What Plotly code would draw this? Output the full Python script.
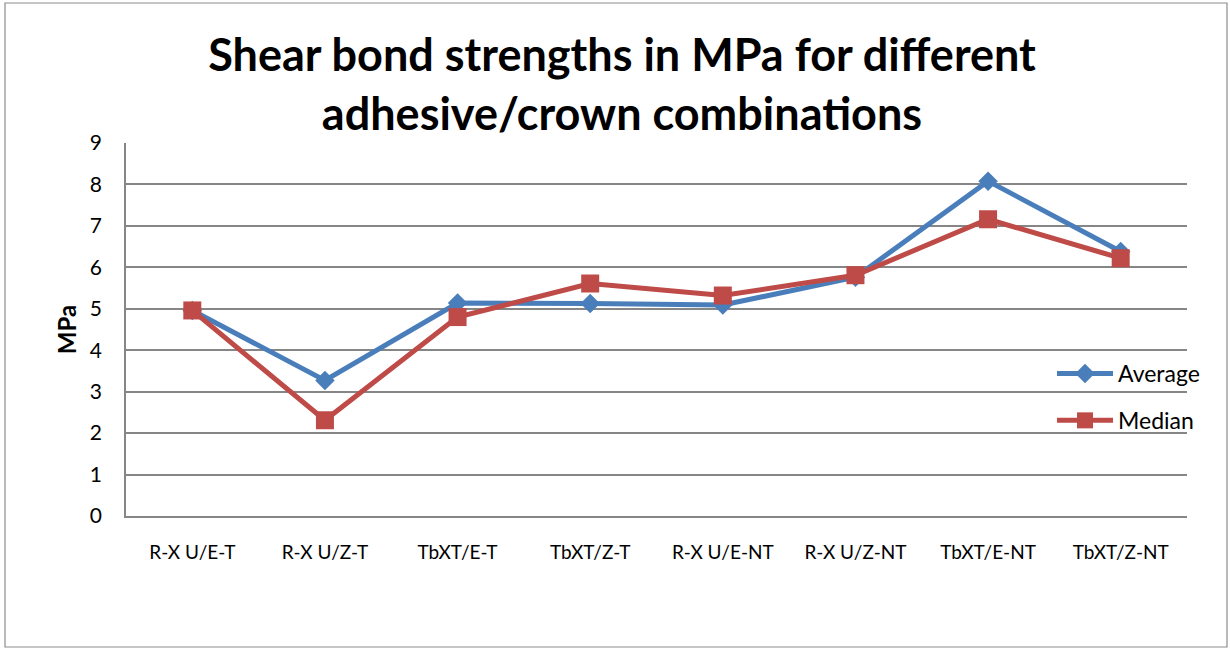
import plotly.graph_objects as go

# Adhesive/crown combinations and their shear bond strengths (MPa)
categories = ["R-X U/E-T", "R-X U/Z-T", "TbXT/E-T", "TbXT/Z-T",
              "R-X U/E-NT", "R-X U/Z-NT", "TbXT/E-NT", "TbXT/Z-NT"]
average = [4.96, 3.27, 5.14, 5.13, 5.09, 5.76, 8.08, 6.38]
median = [4.96, 2.31, 4.80, 5.61, 5.32, 5.81, 7.16, 6.22]
y_ticks = [0, 1, 2, 3, 4, 5, 6, 7, 8, 9]

W, H = 1230, 650
L, R, T, B = 126, 43, 143, 134
pw, ph = W - L - R, H - T - B

FONT = "Lato, Carlito, Calibri, sans-serif"

fig = go.Figure()
fig.add_trace(go.Scatter(
    x=categories, y=average, name="Average", mode="lines+markers",
    line=dict(color="#4A7EBB", width=5),
    marker=dict(symbol="diamond", size=15, color="#4A7EBB"),
    legendgroup="a",
))
fig.add_trace(go.Scatter(
    x=categories, y=median, name="Median", mode="lines+markers",
    line=dict(color="#BE4B48", width=5),
    marker=dict(symbol="square", size=18, color="#BE4B48"),
    legendgroup="m",
))

# outer chart frame
fig.add_shape(type="rect", xref="paper", yref="paper",
              x0=(5 - L) / pw, x1=(1227 - L) / pw,
              y0=(H - B - 647) / ph, y1=(H - B - 3) / ph,
              line=dict(color="#8c8c8c", width=1.2), fillcolor="rgba(0,0,0,0)",
              layer="below")

fig.update_layout(
    width=W, height=H,
    margin=dict(l=L, r=R, t=T, b=B),
    paper_bgcolor="white", plot_bgcolor="white",
    font=dict(family=FONT, color="black"),
    title=dict(
        text="<b>Shear bond strengths in MPa for different<br>adhesive/crown combinations</b>",
        x=622 / W, xanchor="center", y=1 - 71 / H, yanchor="middle",
        font=dict(size=45, family=FONT),
    ),
    xaxis=dict(
        type="category", range=[-0.5, 7.5],
        showgrid=False, showline=True, linecolor="#868686", linewidth=1.5,
        ticks="", tickfont=dict(size=19), ticklabelstandoff=18,
    ),
    yaxis=dict(
        range=[0, 9], tickvals=y_ticks, showgrid=True,
        gridcolor="#868686", gridwidth=1.5,
        showline=True, linecolor="#868686", linewidth=1.5,
        ticks="", tickfont=dict(size=21), ticklabelstandoff=18,
        zeroline=False,
        title=dict(text="<b>MPa</b>", font=dict(size=24), standoff=6),
    ),
    legend=dict(
        x=(1052 - L) / pw, xanchor="left",
        y=(H - B - 352) / ph, yanchor="top",
        bgcolor="rgba(0,0,0,0)", font=dict(size=23),
        tracegroupgap=14, itemwidth=56,
    ),
    showlegend=True,
)

fig.write_html("out.html")
